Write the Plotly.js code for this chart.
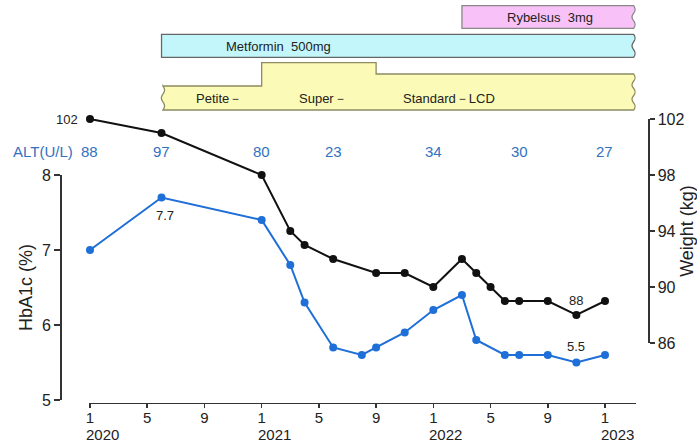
<!DOCTYPE html>
<html>
<head>
<meta charset="utf-8">
<script src="https://cdn.plot.ly/plotly-3.0.1.min.js"></script>
<style>html,body{margin:0;padding:0;background:#fff;}#chart{width:697px;height:444px;}</style>
</head>
<body>
<div id="chart"></div>
<script>
// ---- data ----
const hba1cDates = ['2020-01','2020-06','2021-01','2021-03','2021-04','2021-06','2021-08','2021-09','2021-11','2022-01','2022-03','2022-04','2022-06','2022-07','2022-09','2022-11','2023-01'];
const hba1cValues = [7.0, 7.7, 7.4, 6.8, 6.3, 5.7, 5.6, 5.7, 5.9, 6.2, 6.4, 5.8, 5.6, 5.6, 5.6, 5.5, 5.6];

const weightDates = ['2020-01','2020-06','2021-01','2021-03','2021-04','2021-06','2021-09','2021-11','2022-01','2022-03','2022-04','2022-05','2022-06','2022-07','2022-09','2022-11','2023-01'];
const weightValues = [102, 101, 98, 94, 93, 92, 91, 91, 90, 92, 91, 90, 89, 89, 89, 88, 89];

const altDates = ['2020-01','2020-06','2021-01','2021-06','2022-01','2022-07','2023-01'];
const altValues = [88, 97, 80, 23, 34, 30, 27];

const tickDates = ['2020-01','2020-05','2020-09','2021-01','2021-05','2021-09','2022-01','2022-05','2022-09','2023-01'];
const tickLabels = ['1','5','9','1','5','9','1','5','9','1'];
const yearDates = ['2020-01','2021-01','2022-01','2023-01'];
const yearLabels = ['2020','2021','2022','2023'];

// treatment timeline
const rybelsusStart = '2022-03', metforminStart = '2020-06', timelineEnd = '2023-03';
const dietStarts = ['2020-06','2021-01','2021-09'];
const dietLabels = ['Petite－','Super－','Standard－LCD'];

// labelled points
const labelWeightIdx = [0, 15];
const labelHbIdx = [1, 15];

// ---- helpers ----
const W = 697, H = 444;
const PXM = 515 / 36; // pixels per month
function mi(s){ const p = s.split('-').map(Number); return (p[0]-2020)*12 + (p[1]-1); }
function py(p){ return (H - p) / H; }
function px(p){ return p / W; }
function wave(x, y0, y1, n, ampPx){
  const a = ampPx / PXM, k = 6 * n;
  let s = '';
  for (let i = 1; i <= k; i++){
    const t = i / k;
    const xx = x + a * Math.sin(Math.PI * n * t);
    s += ` L ${xx.toFixed(4)},${py(y0 + (y1 - y0) * t).toFixed(5)}`;
  }
  return s;
}

const FONT = 'Liberation Sans, Arial, sans-serif';
const BLUE = '#1f6fd8', ALTBLUE = '#3372bf';

const traces = [
  { x: hba1cDates.map(mi), y: hba1cValues, xaxis: 'x', yaxis: 'y', type: 'scatter', mode: 'lines+markers',
    line: { color: BLUE, width: 2 }, marker: { color: BLUE, size: 8 }, cliponaxis: false, name: 'HbA1c' },
  { x: weightDates.map(mi), y: weightValues, xaxis: 'x', yaxis: 'y2', type: 'scatter', mode: 'lines+markers',
    line: { color: '#111', width: 2 }, marker: { color: '#111', size: 8 }, cliponaxis: false, name: 'Weight' }
];

const xEnd = mi(timelineEnd);
const shapes = [];
// Rybelsus
const rs = mi(rybelsusStart);
shapes.push({ type: 'path', xref: 'x', yref: 'paper', layer: 'above',
  path: `M ${rs},${py(5.7)} L ${xEnd},${py(5.7)}` + wave(xEnd, 5.7, 28.3, 3, 1.6) + ` L ${rs},${py(28.3)} Z`,
  fillcolor: '#f8c2f8', line: { color: '#888', width: 1.3 } });
// Metformin
const ms = mi(metforminStart);
shapes.push({ type: 'path', xref: 'x', yref: 'paper', layer: 'above',
  path: `M ${ms},${py(34.3)} L ${xEnd},${py(34.3)}` + wave(xEnd, 34.3, 57.3, 3, 1.6) + ` L ${ms},${py(57.3)} Z`,
  fillcolor: '#c2f6fa', line: { color: '#666', width: 1.3 } });
// Diet (stepped)
const d0 = mi(dietStarts[0]) + 0.1, d1 = mi(dietStarts[1]), d2 = mi(dietStarts[2]);
shapes.push({ type: 'path', xref: 'x', yref: 'paper', layer: 'above',
  path: `M ${d0},${py(86)} L ${d1},${py(86)} L ${d1},${py(62.7)} L ${d2},${py(62.7)} L ${d2},${py(74)} L ${xEnd},${py(74)}` +
        wave(xEnd, 74, 110, 5, 1.6) + ` L ${d0},${py(110)}` + wave(d0, 110, 86, 3, 1.6) + ' Z',
  fillcolor: '#fbfab6', line: { color: '#8c8c62', width: 1.3 } });

const annotations = [];
function ann(o){ annotations.push(Object.assign({ showarrow: false, xanchor: 'center', yanchor: 'middle' }, o)); }
const boxFont = { family: FONT, size: 13, color: '#222' };
ann({ xref: 'paper', yref: 'paper', x: px(550), y: py(17), text: 'Rybelsus  3mg', font: boxFont });
ann({ xref: 'paper', yref: 'paper', x: px(278.5), y: py(46), text: 'Metformin  500mg', font: boxFont });
const dietX = [218.5, 322.5, 449];
dietLabels.forEach((t, i) => ann({ xref: 'paper', yref: 'paper', x: px(dietX[i]), y: py(98.7), text: t, font: boxFont }));

// ALT row
ann({ xref: 'paper', yref: 'paper', x: px(42.5), y: py(151), text: 'ALT(U/L)', font: { family: FONT, size: 15, color: ALTBLUE } });
altDates.forEach((d, i) => ann({ xref: 'x', yref: 'paper', x: mi(d), y: py(151), text: String(altValues[i]), font: { family: FONT, size: 15, color: ALTBLUE } }));

// year labels (left-aligned under the January ticks)
yearDates.forEach((d, i) => ann({ xref: 'x', yref: 'paper', x: mi(d), xshift: -6, xanchor: 'left', y: py(434), text: yearLabels[i], font: { family: FONT, size: 15, color: '#222' } }));

// point labels
const lblFont = { family: FONT, size: 13, color: '#222' };
ann({ xref: 'x', yref: 'y2', x: mi(weightDates[labelWeightIdx[0]]), y: weightValues[labelWeightIdx[0]], xshift: -23, text: String(weightValues[labelWeightIdx[0]]), font: lblFont });
ann({ xref: 'x', yref: 'y2', x: mi(weightDates[labelWeightIdx[1]]), y: weightValues[labelWeightIdx[1]], yshift: 15, text: String(weightValues[labelWeightIdx[1]]), font: lblFont });
ann({ xref: 'x', yref: 'y', x: mi(hba1cDates[labelHbIdx[0]]), y: hba1cValues[labelHbIdx[0]], xshift: 3, yshift: -18, text: hba1cValues[labelHbIdx[0]].toFixed(1), font: lblFont });
ann({ xref: 'x', yref: 'y', x: mi(hba1cDates[labelHbIdx[1]]), y: hba1cValues[labelHbIdx[1]], yshift: 16, text: hba1cValues[labelHbIdx[1]].toFixed(1), font: lblFont });

const axisCommon = { showgrid: false, zeroline: false, showline: true, linecolor: '#333', linewidth: 1.5,
  ticks: 'outside', tickcolor: '#333', tickwidth: 1.5, tickfont: { family: FONT, size: 16, color: '#222' }, automargin: false, fixedrange: true };

const layout = {
  width: W, height: H, margin: { l: 0, r: 0, t: 0, b: 0, pad: 0 },
  paper_bgcolor: '#fff', plot_bgcolor: 'rgba(0,0,0,0)', showlegend: false,
  font: { family: FONT, color: '#222' },
  xaxis: Object.assign({}, axisCommon, {
    domain: [px(90 - 0.1 * PXM), px(90 + 38.15 * PXM)], range: [-0.1, 38.15], anchor: 'free', position: py(402.5),
    tickvals: tickDates.map(mi), ticktext: tickLabels, ticklen: 4, ticklabelstandoff: -3,
    tickfont: { family: FONT, size: 15, color: '#222' } }),
  yaxis: Object.assign({}, axisCommon, {
    domain: [py(400), py(175)], range: [5, 8], anchor: 'free', position: px(60), dtick: 1, ticklen: 6,
    title: { text: 'HbA1c (%)', font: { family: FONT, size: 18, color: '#222' }, standoff: 3 } }),
  yaxis2: Object.assign({}, axisCommon, {
    domain: [py(343), py(119)], range: [86, 102], anchor: 'free', position: px(648), side: 'right',
    tickvals: [86, 90, 94, 98, 102], ticklen: 5,
    title: { text: 'Weight (kg)', font: { family: FONT, size: 18, color: '#222' }, standoff: 1 } }),
  shapes: shapes,
  annotations: annotations
};

Plotly.newPlot('chart', traces, layout, { displayModeBar: false, staticPlot: true });
</script>
</body>
</html>
